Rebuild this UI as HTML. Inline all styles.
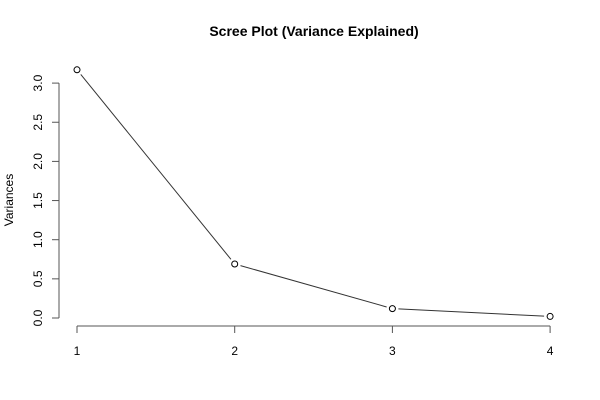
<!DOCTYPE html>
<html><head><meta charset="utf-8"><style>
html,body{margin:0;padding:0;background:#fff;}
svg{display:block;font-family:"Liberation Sans",Arial,sans-serif;}
</style></head><body>
<svg id="chart" width="600" height="400">
<text x="314" y="36" text-anchor="middle" font-size="14" font-weight="bold">Scree Plot (Variance Explained)</text>
<text transform="translate(13,200) rotate(-90)" text-anchor="middle" font-size="12">Variances</text>
<g id="axes"></g>
<g id="series"></g>
</svg>
<script>
const components = [1, 2, 3, 4];
const variances = [3.17, 0.69, 0.12, 0.02];
const yTicks = [0, 0.5, 1, 1.5, 2, 2.5, 3];
const yTickLabels = ["0.0", "0.5", "1.0", "1.5", "2.0", "2.5", "3.0"];
const xTicks = [1, 2, 3, 4];

const NS = "http://www.w3.org/2000/svg";
const x = v => 77 + (v - 1) * 157.7;
const y = v => 318 - v * 78.3;
function mk(tag, attrs, parent, text) {
  const e = document.createElementNS(NS, tag);
  for (const k in attrs) e.setAttribute(k, attrs[k]);
  if (text !== undefined) e.textContent = text;
  parent.appendChild(e);
  return e;
}
const axes = document.getElementById("axes");
const series = document.getElementById("series");

const ya = mk("line", {x1: 59, x2: 59, y1: y(yTicks[0]), y2: y(yTicks[yTicks.length-1]), stroke: "#555", "stroke-width": 1}, axes);


yTicks.forEach((t, i) => {
  const tk = mk("line", {x1: 52, x2: 59, y1: y(t), y2: y(t), stroke: "#555"}, axes);
  
  
  const lb = mk("text", {transform: `translate(42,${y(t)}) rotate(-90)`, "text-anchor": "middle", "font-size": 12}, axes, yTickLabels[i]);
  
  
});

const xa = mk("line", {x1: x(xTicks[0]), x2: x(xTicks[xTicks.length-1]), y1: 326, y2: 326, stroke: "#555"}, axes);


xTicks.forEach(t => {
  const tk = mk("line", {x1: x(t), x2: x(t), y1: 326, y2: 333, stroke: "#555"}, axes);
  
  
  const lb = mk("text", {x: x(t), y: 355, "text-anchor": "middle", "font-size": 12}, axes, String(t));
  
  
});

for (let i = 0; i < components.length - 1; i++) {
  const x1 = x(components[i]), y1 = y(variances[i]);
  const x2 = x(components[i+1]), y2 = y(variances[i+1]);
  const dx = x2 - x1, dy = y2 - y1, L = Math.hypot(dx, dy), g = 6;
  const seg = mk("line", {x1: x1 + dx/L*g, y1: y1 + dy/L*g, x2: x2 - dx/L*g, y2: y2 - dy/L*g, stroke: "#333", "stroke-width": 1}, series);
  
  
}
components.forEach((c, i) => {
  const p = mk("circle", {cx: x(c), cy: y(variances[i]), r: 3, fill: "none", stroke: "#000", "stroke-width": 1}, series);
  
  
});
</script>
</body></html>
